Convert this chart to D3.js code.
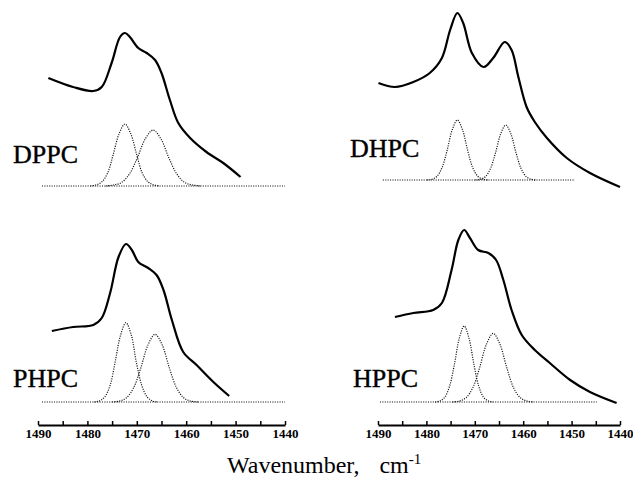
<!DOCTYPE html>
<html>
<head>
<meta charset="utf-8">
<script src="https://cdn.jsdelivr.net/npm/d3@7/dist/d3.min.js"></script>
<style>
  body { margin: 0; background: #fff; }
  text { font-family: "Liberation Serif", "Times New Roman", serif; fill: #000; }
</style>
</head>
<body>
<div id="canvas"></div>
<script>
// spectra: [wavenumber, absorbance (a.u.)]
var dppcSpectrum = [[1487.9,1.08],[1482.9,0.99],[1478.8,0.95],[1477.1,0.99],[1475.1,1.23],[1473.4,1.49],[1472.4,1.53],[1471.4,1.49],[1469.7,1.38],[1468.0,1.33],[1466.3,1.26],[1465.0,1.13],[1463.3,0.86],[1461.6,0.63],[1459.2,0.48],[1455.9,0.34],[1452.5,0.23],[1449.0,0.09]]
var dppcBand1 = [[1479.4,0],[1478.3,0.01],[1477.1,0.04],[1475.9,0.13],[1474.8,0.31],[1473.6,0.52],[1472.4,0.62],[1471.2,0.52],[1470.0,0.31],[1468.9,0.13],[1467.7,0.04],[1466.5,0.01],[1465.4,0]]
var dppcBand2 = [[1476.3,0],[1474.7,0.01],[1473.1,0.035],[1471.5,0.12],[1469.9,0.28],[1468.3,0.47],[1466.7,0.56],[1465.1,0.47],[1463.5,0.28],[1461.9,0.12],[1460.3,0.035],[1458.7,0.01],[1457.1,0]]

var dhpcSpectrum = [[1489.9,0.97],[1486.5,0.93],[1482.7,0.98],[1479.3,1.07],[1476.8,1.22],[1475.1,1.50],[1473.6,1.67],[1472.4,1.57],[1470.6,1.27],[1468.2,1.13],[1466.2,1.22],[1463.8,1.38],[1462.4,1.30],[1461.0,1.03],[1459.3,0.73],[1457.6,0.58],[1455.1,0.42],[1451.0,0.22],[1446.2,0.07],[1440.0,-0.07]]
var dhpcBand1 = [[1479.9,0],[1478.85,0.008],[1477.8,0.038],[1476.75,0.126],[1475.7,0.30],[1474.65,0.504],[1473.6,0.60],[1472.55,0.504],[1471.5,0.30],[1470.45,0.126],[1469.4,0.038],[1468.35,0.008],[1467.3,0]]
var dhpcBand2 = [[1469.9,0],[1468.85,0.007],[1467.8,0.034],[1466.75,0.116],[1465.7,0.275],[1464.65,0.462],[1463.6,0.55],[1462.55,0.462],[1461.5,0.275],[1460.45,0.116],[1459.4,0.034],[1458.35,0.007],[1457.3,0]]

var phpcSpectrum = [[1487.2,0.71],[1482.9,0.75],[1478.8,0.77],[1477.1,0.84],[1475.4,1.09],[1473.7,1.45],[1472.2,1.58],[1471.0,1.52],[1469.7,1.40],[1467.7,1.34],[1466.0,1.27],[1464.6,1.12],[1462.9,0.82],[1460.6,0.50],[1457.9,0.37],[1454.5,0.20],[1451.3,0.06]]
var phpcBand1 = [[1478.6,0],[1477.6,0.01],[1476.5,0.05],[1475.4,0.167],[1474.4,0.397],[1473.3,0.666],[1472.2,0.793],[1471.1,0.666],[1470.1,0.397],[1469.0,0.167],[1467.9,0.05],[1466.8,0.01],[1465.8,0]]
var phpcBand2 = [[1475.0,0],[1473.55,0.009],[1472.1,0.042],[1470.65,0.142],[1469.2,0.339],[1467.75,0.569],[1466.3,0.677],[1464.85,0.569],[1463.4,0.339],[1461.95,0.142],[1460.5,0.042],[1459.05,0.009],[1457.6,0]]

var hppcSpectrum = [[1486.5,0.85],[1482.7,0.89],[1478.6,0.92],[1476.8,0.99],[1474.8,1.32],[1473.4,1.62],[1472.2,1.72],[1471.0,1.64],[1469.3,1.52],[1467.2,1.49],[1465.6,1.42],[1464.1,1.22],[1462.4,0.92],[1460.3,0.67],[1457.6,0.52],[1454.5,0.39],[1450.3,0.22],[1446.2,0.10],[1440.7,-0.01]]
var hppcBand1 = [[1478.2,0],[1477.2,0.01],[1476.2,0.048],[1475.2,0.16],[1474.2,0.38],[1473.2,0.638],[1472.2,0.76],[1471.2,0.638],[1470.2,0.38],[1469.2,0.16],[1468.2,0.048],[1467.2,0.01],[1466.2,0]]
var hppcBand2 = [[1474.6,0],[1473.2,0.009],[1471.8,0.043],[1470.4,0.144],[1469.0,0.344],[1467.6,0.577],[1466.2,0.687],[1464.8,0.577],[1463.4,0.344],[1462.0,0.144],[1460.6,0.043],[1459.2,0.009],[1457.8,0]]

// dotted zero lines [from, to]
var dppcZero = [1489.2, 1440]
var dhpcZero = [1489.0, 1449.3]
var phpcZero = [1489.2, 1440]
var hppcZero = [1489.6, 1444.8]

var names = ["DPPC", "DHPC", "PHPC", "HPPC"]
var tickValues = [1490, 1485, 1480, 1475, 1470, 1465, 1460, 1455, 1450, 1445, 1440]
var xLabel = "Wavenumber,"
var xUnit = "cm"
var xUnitSup = "-1"

var width = 633
var height = 485

var svg = d3.select("#canvas")
    .append("svg")
    .attr("width", width)
    .attr("height", height)

var panels = [
    { name: names[0], spectrum: dppcSpectrum, bands: [dppcBand1, dppcBand2], zero: dppcZero, xr: [38, 285], base: 186, lx: 13, ly: 163 },
    { name: names[1], spectrum: dhpcSpectrum, bands: [dhpcBand1, dhpcBand2], zero: dhpcZero, xr: [378, 620], base: 180, lx: 350, ly: 157 },
    { name: names[2], spectrum: phpcSpectrum, bands: [phpcBand1, phpcBand2], zero: phpcZero, xr: [38, 285], base: 402, lx: 13, ly: 387 },
    { name: names[3], spectrum: hppcSpectrum, bands: [hppcBand1, hppcBand2], zero: hppcZero, xr: [378, 620], base: 402, lx: 353, ly: 387 }
]

var axisY = 425

panels.forEach(function (p) {
    var xScale = d3.scaleLinear().domain([1490, 1440]).range(p.xr)
    var yScale = d3.scaleLinear().domain([0, 1]).range([p.base, p.base - 100])

    var line = d3.line()
        .x(function (d) { return xScale(d[0]) })
        .y(function (d) { return yScale(d[1]) })
        .curve(d3.curveCatmullRom.alpha(0.5))

    var g = svg.append("g")

    // zero line of the fitted bands
    g.append("path")
        .datum([[p.zero[0], 0], [p.zero[1], 0]])
        .attr("d", d3.line().x(function (d) { return xScale(d[0]) }).y(function (d) { return yScale(d[1]) }))
        .attr("fill", "none")
        .attr("stroke", "#111")
        .attr("stroke-width", 1.2)
        .attr("stroke-dasharray", "1.1,1.3")

    g.selectAll(".band")
        .data(p.bands)
        .enter()
        .append("path")
        .attr("class", "band")
        .attr("d", line)
        .attr("fill", "none")
        .attr("stroke", "#111")
        .attr("stroke-width", 1.2)
        .attr("stroke-dasharray", "1.1,1.3")

    g.append("path")
        .datum(p.spectrum)
        .attr("d", line)
        .attr("fill", "none")
        .attr("stroke", "#000")
        .attr("stroke-width", 2.2)

    g.append("text")
        .attr("x", p.lx)
        .attr("y", p.ly)
        .style("font-size", "26px")
        .attr("stroke", "#000")
        .attr("stroke-width", 0.4)
        .text(p.name)
})

// bottom axes, one per column
;[[38, 285], [378, 620]].forEach(function (r) {
    var xScale = d3.scaleLinear().domain([1490, 1440]).range(r)
    var axis = svg.append("g")
        .attr("transform", "translate(0," + axisY + ")")
        .call(d3.axisBottom(xScale)
            .tickValues(tickValues)
            .tickSizeInner(-4)
            .tickSizeOuter(0)
            .tickPadding(4)
            .tickFormat(function (d) { return d % 10 === 0 ? d : "" }))
    axis.select(".domain").attr("stroke", "#000").attr("stroke-width", 2)
    axis.selectAll(".tick line").attr("stroke", "#000").attr("stroke-width", 1.5)
    axis.selectAll(".tick text")
        .style("font-family", "'Liberation Serif', serif")
        .style("font-size", "13px")
        .style("font-weight", "bold")
        .attr("fill", "#000")
})

var title = svg.append("text")
    .attr("x", 227)
    .attr("y", 473)
    .style("font-size", "24px")
title.append("tspan").text(xLabel)
title.append("tspan").attr("dx", 20).text(xUnit)
title.append("tspan").attr("dy", -9).style("font-size", "15px").text(xUnitSup)
</script>
</body>
</html>
